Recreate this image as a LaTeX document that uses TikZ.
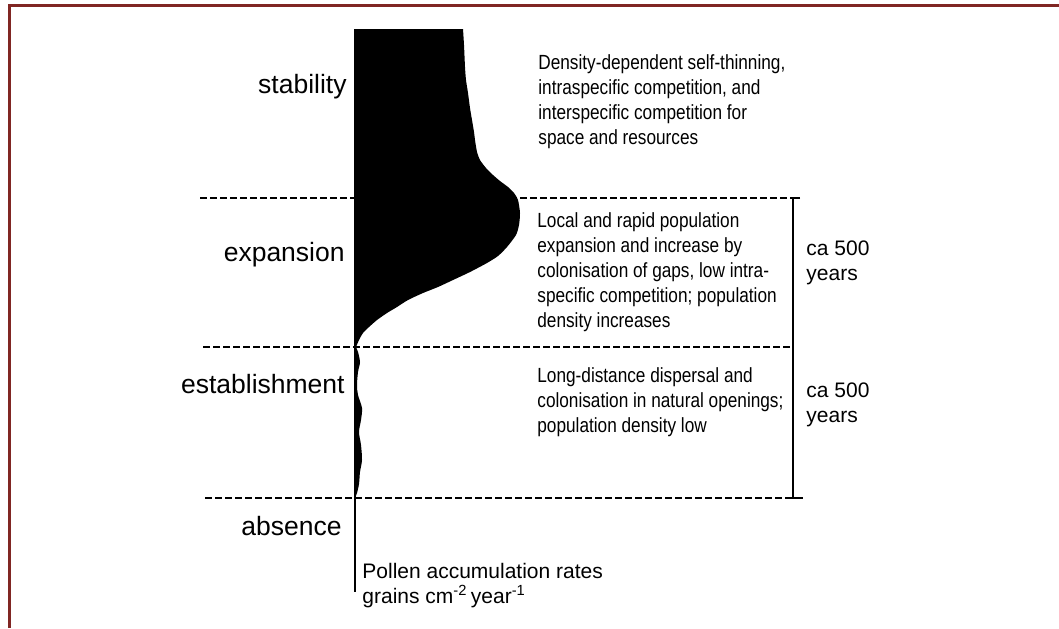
\documentclass[tikz,border=0pt]{standalone}
\usepackage{fontspec}
\setmainfont{Liberation Sans}
\newfontfamily\narrowfont[FakeStretch=0.84]{Liberation Sans}
\definecolor{framered}{RGB}{128,38,35}
\begin{document}
\begin{tikzpicture}[x=0.5pt, y=-0.5pt,
  phase/.style={anchor=base east, inner sep=0pt, font=\fontsize{13.25}{16}\selectfont},
  note/.style={anchor=north west, inner sep=0pt, align=left, font=\narrowfont\fontsize{10.25}{12.5}\selectfont},
  span/.style={anchor=north west, inner sep=0pt, align=left, font=\fontsize{10.5}{12.5}\selectfont},
  sep/.style={dash pattern=on 3.6pt off 1.4pt, line width=1pt}]
\useasboundingbox (0,0) rectangle (1059,628);
% frame
\draw[framered, line width=1.5pt] (9.7,628) -- (9.7,5.7) -- (1059,5.7);
% pollen curve
\fill (355,29) -- plot[smooth, tension=0.4] coordinates {(463,29) (464,45) (465,67) (466,80) (468,93) (470,108) (472,120) (474,132) (475,140) (477,152) (480,160) (486,168) (493,175) (500,181) (508,187) (514,193) (518,200) (520,213) (519,225) (516,235) (507,247) (498,256) (487,263) (470,272) (453,280) (438,287) (423,293) (408,300) (397,307) (387,313) (377,320) (369,327) (363,333) (359,340) (356,347)}
  -- plot[smooth, tension=0.5] coordinates {(358,352) (360,362) (358,372) (357,385) (358,395) (362,408) (361,420) (359,432) (361,445) (362,460) (360,472) (359,484) (357,493) (355,498)} -- cycle;
\coordinate (axtop) at (355,29);
\coordinate (axbot) at (355,592);
\draw[line width=1pt] (axtop) -- (axbot);
% phase boundaries
\coordinate (b1) at (200,198); \coordinate (b1e) at (793,198);
\coordinate (b2) at (203,347); \coordinate (b2e) at (793,347);
\coordinate (b3) at (205,498); \coordinate (b3e) at (793,498);
\draw[sep] (b1) -- (b1e);
\draw[sep] (b2) -- (b2e);
\draw[sep] (b3) -- (b3e);
\draw[line width=1pt] (800,198) -- (b1e) -- (b3e) -- (803,498);
% phases
\node[phase] (stab) at (347,93) {stability};
\node[phase] (expa) at (345,261) {expansion};
\node[phase] (esta) at (345,393) {establishment};
\node[phase] (abse) at (342,535) {absence};
% processes
\node[note] (stabtxt) at (538,54) {Density-dependent self-thinning,\\intraspecific competition, and\\interspecific competition for\\space and resources};
\node[note] (expatxt) at (537,212) {Local and rapid population\\expansion and increase by\\colonisation of gaps, low intra-\\specific competition; population\\density increases};
\node[note] (estatxt) at (537,367) {Long-distance dispersal and\\colonisation in natural openings;\\population density low};
% durations
\node[span] (dur1) at (806,240) {ca 500\\years};
\node[span] (dur2) at (806,382) {ca 500\\years};
% axis label
\node[span] (axlbl) at (362,563) {Pollen accumulation rates\\grains cm\textsuperscript{-2}\,year\textsuperscript{-1}};
\end{tikzpicture}
\end{document}
